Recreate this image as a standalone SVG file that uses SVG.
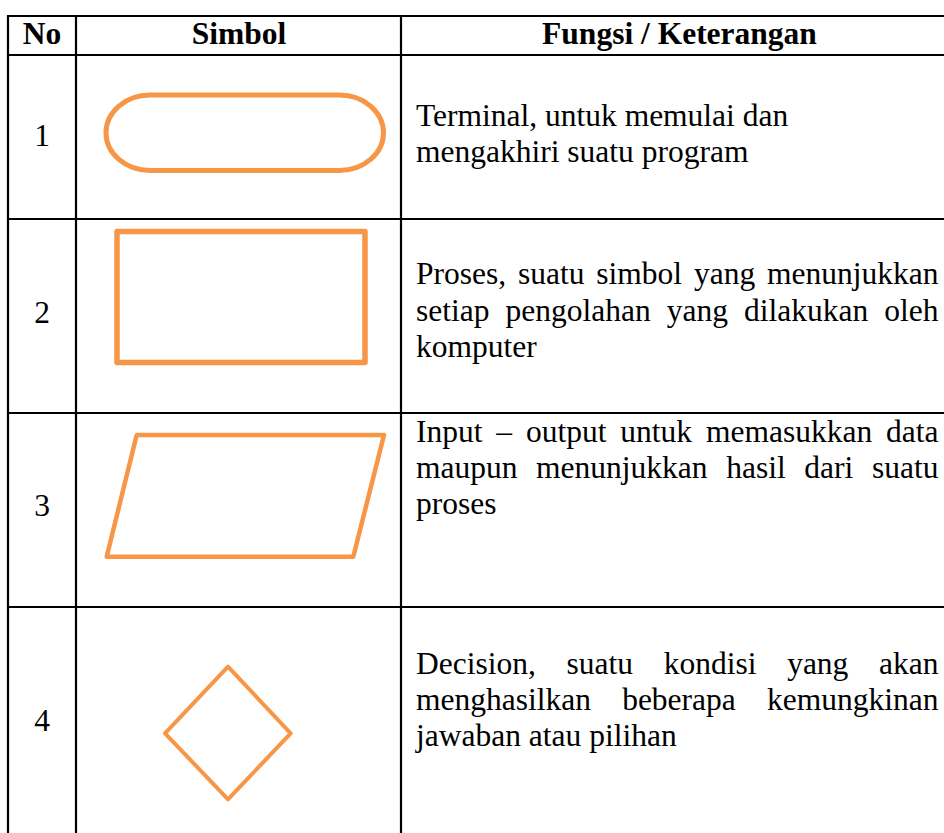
<svg xmlns="http://www.w3.org/2000/svg" width="944" height="833" viewBox="0 0 944 833">
<style>
.grid{stroke:#000;stroke-width:2.2;fill:none}
.sym{fill:none;stroke:#F79646;stroke-linejoin:round}
text{font-family:"Liberation Serif","Times New Roman",serif;font-size:31.5px;fill:#000}
.hd{font-weight:bold;text-anchor:middle}
.num{text-anchor:middle}
</style>
<rect x="0" y="0" width="944" height="833" fill="#fff"/>
<g id="table-grid">
<line class="grid" x1="7" y1="16" x2="944" y2="16"/>
<line class="grid" x1="7" y1="55" x2="944" y2="55"/>
<line class="grid" x1="7" y1="219" x2="944" y2="219"/>
<line class="grid" x1="7" y1="413" x2="944" y2="413"/>
<line class="grid" x1="7" y1="607" x2="944" y2="607"/>
<line class="grid" x1="8" y1="15" x2="8" y2="833"/>
<line class="grid" x1="76" y1="15" x2="76" y2="833"/>
<line class="grid" x1="401" y1="15" x2="401" y2="833"/>
</g>
<g id="header">
<text class="hd" x="42" y="44">No</text>
<text class="hd" x="239" y="44">Simbol</text>
<text class="hd" x="679.5" y="44">Fungsi / Keterangan</text>
</g>
<g id="row1">
<text class="num" x="42" y="146">1</text>
<rect class="sym" x="106" y="95" width="277.5" height="75.5" rx="44" ry="37.75" stroke-width="5"/>
<text x="416" y="126">Terminal, untuk memulai dan</text>
<text x="416" y="162">mengakhiri suatu program</text>
</g>
<g id="row2">
<text class="num" x="42" y="323">2</text>
<rect class="sym" x="117" y="231.5" width="248" height="131" stroke-width="5.5" stroke-linejoin="miter"/>
<text x="416" y="284" word-spacing="3.98">Proses, suatu simbol yang menunjukkan</text>
<text x="416" y="320.5" word-spacing="8.15">setiap pengolahan yang dilakukan oleh</text>
<text x="416" y="357">komputer</text>
</g>
<g id="row3">
<text class="num" x="42" y="516">3</text>
<polygon class="sym" points="136.7,435 384,435 353.3,556.7 106.7,556.7" stroke-width="4.5"/>
<text x="416" y="442" word-spacing="5.99">Input – output untuk memasukkan data</text>
<text x="416" y="478" word-spacing="10.76">maupun menunjukkan hasil dari suatu</text>
<text x="416" y="514">proses</text>
</g>
<g id="row4">
<text class="num" x="42" y="731">4</text>
<polygon class="sym" points="228,666.7 290.7,733.3 228,799.3 165,733.3" stroke-width="4"/>
<text x="416" y="674" word-spacing="22.8">Decision, suatu kondisi yang akan</text>
<text x="416" y="710" word-spacing="23.3">menghasilkan beberapa kemungkinan</text>
<text x="416" y="746">jawaban atau pilihan</text>
</g>
</svg>
